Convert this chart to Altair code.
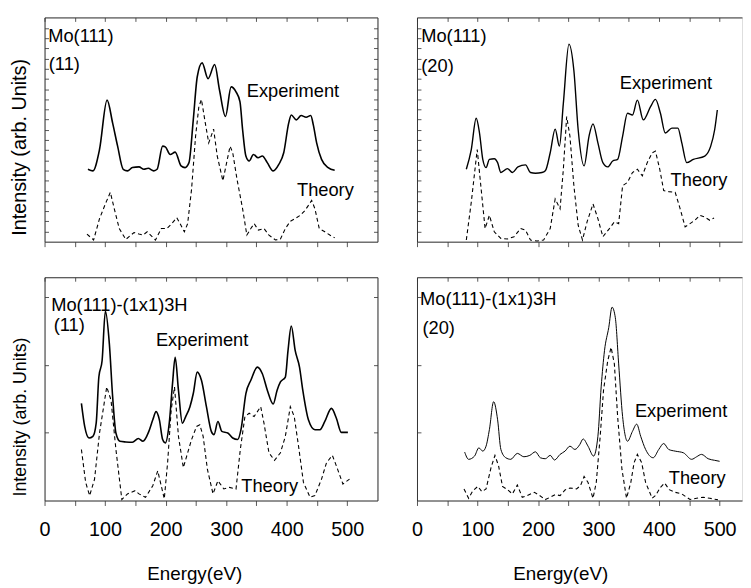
import altair as alt
import pandas as pd

FONT = "Liberation Sans"
FRAME = "#333333"
TICK = "#555555"

# ---------------- data (energy in eV, intensity in arbitrary units) ----------------
# Mo(111) (11)
TL_exp_E = [71.7, 79.9, 90.8, 103.3, 112.5, 120.7, 129.9, 137, 145.1, 156, 164.1, 171.2, 180.4, 185.9, 195.1, 199.5,
            207.6, 215.8, 225.5, 232.1, 238.6, 245.7, 252.2, 260.3, 270.1, 281, 289.1, 298.9, 308.2, 316.3, 322.8, 327.2,
            332.6, 338, 345.1, 352.7, 359.8, 367.9, 377.7, 387, 395.1, 403.3, 407.6, 415.8, 423.9, 432.1, 439.7, 444,
            449.5, 457.6, 468.5, 479.3]
TL_exp_I = [73.3, 71.7, 93.3, 143.3, 120, 96.7, 73.3, 71.7, 75, 75.7, 73.3, 74.3, 71.7, 73.3, 96.7, 96,
            88.3, 90.7, 76.7, 75, 80, 123.3, 166.7, 181, 165, 179.3, 153.3, 126.7, 156.7, 151.7, 141.7, 113.3,
            86.7, 81.7, 88.3, 85, 86.7, 80, 71.7, 78.3, 90, 120, 128.3, 123.3, 127.7, 126, 127.7, 118.3,
            100, 83.3, 75, 72.3]
TL_th_E = [70.1, 81, 90.8, 100.5, 108.7, 115.2, 123.4, 134.2, 147.8, 156, 162.5, 169.6, 183.2, 192.9, 202.2, 210.3,
           218.5, 223.9, 231, 236.4, 242.9, 249.5, 254.9, 259.2, 264.7, 271.2, 279.3, 285.3, 294.6, 306.5, 310.9, 317.9,
           327.2, 334.2, 340.8, 346.2, 353.3, 362.5, 370.7, 381.5, 389.7, 397.8, 406, 414.1, 422.3, 430.4, 441.3, 446.7,
           453.8, 463, 471.2, 479.3]
TL_th_I = [7.7, 1.7, 23.3, 38.3, 50, 33.3, 13.3, 2.3, 9.3, 7.7, 6.7, 10, 1.7, 13.3, 13.3, 18.3,
           24.3, 18.3, 10, 18.3, 53.3, 106.7, 136.7, 144, 123.3, 100, 114, 86.7, 61.7, 96.7, 90, 63.3,
           33.3, 6.7, 13.3, 18.3, 11.7, 13.3, 6.7, 1.7, 2.7, 13.3, 20.7, 23.3, 26.7, 31.7, 41.7, 33.3,
           13.3, 10, 6.7, 4]

# Mo(111) (20)
TR_exp_E = [81.5, 89.7, 97.8, 103.3, 108.7, 114.1, 119.6, 127.7, 133.2, 138.6, 149.5, 157.6, 166.8, 179.3, 187.5,
            195.7, 206.5, 212, 220.1, 228.3, 235.3, 241.8, 251.1, 259.2, 266.3, 276.1, 284.2, 290.8, 298.9, 307.1,
            315.2, 323.4, 331.5, 339.7, 347.8, 356, 364.1, 373.9, 385.9, 394, 402.2, 410.3, 421.2, 431, 437.5,
            445.7, 456.5, 475.5, 485.3, 491.8, 496.2]
TR_exp_I = [73.3, 93.3, 125, 110, 83.3, 75, 83.3, 84, 80, 70, 74, 70, 75.7, 77.7, 70,
            69.3, 70, 71.7, 90, 114, 96.7, 140, 200, 173.3, 113.3, 76.7, 106.7, 119.3, 100, 80,
            75.7, 81.7, 83.3, 106.7, 130, 128.3, 143.3, 123.3, 136.7, 144, 130, 110, 115, 115, 100,
            80, 83.3, 86.7, 96.7, 113.3, 133.3]
TR_th_E = [81.5, 89.7, 99.5, 106, 112.5, 119.6, 127.7, 138.6, 149.5, 160.3, 171.2, 179.3, 187.5, 198.4, 209.2,
           220.1, 228.3, 236.4, 241.8, 247.3, 252.7, 259.2, 266.3, 273.4, 281, 290.8, 298.9, 307.1, 317.9, 326.1,
           333.2, 339.7, 347.8, 356, 364.1, 372.3, 380.4, 388.6, 394, 401.1, 407.6, 415.8, 426.6, 434.8, 443,
           451.1, 459.2, 467.4, 475.5, 483.7, 490.8]
TR_th_I = [1.7, 40, 93.3, 53.3, 13.3, 26.7, 10, 3.3, 2.7, 5, 13.3, 11.7, 1.7, 0.7, 1.7,
           13.3, 43.3, 33.3, 73.3, 126.7, 106.7, 56.7, 16.7, 1.7, 20, 38.3, 23.3, 5, 13.3, 20,
           18.3, 56.7, 60, 70, 73.3, 66.7, 80, 90, 91.7, 73.3, 51.7, 50.7, 50, 33.3, 15,
           18.3, 21.7, 26.7, 25, 21.7, 24]

# Mo(111)-(1x1)3H (11)
BL_exp_E = [60.9, 66.3, 73.4, 79.9, 85.3, 89.7, 95.1, 100.5, 107.1, 112.5, 117.9, 124.5, 134.2, 145.1, 154.9,
            162.5, 172.3, 178.8, 184.2, 189.7, 195.1, 199.5, 206, 211.4, 215.8, 221.2, 227.7, 233.2, 240.2, 245.7,
            252.2, 259.2, 267.4, 275.5, 279.9, 286.4, 292.9, 302.7, 310.9, 319, 324.5, 332.6, 340.8, 351.6, 359.8,
            368, 377.7, 384.2, 389.7, 397.8, 402.2, 407.6, 414.1, 421.2, 426.6, 435.9, 446.7, 454.9, 463, 473.9,
            482.1, 490.2, 501.1]
BL_exp_I = [98.3, 75, 63.3, 65, 78.3, 125, 141.7, 191.7, 158.3, 105, 68.3, 60, 59.3, 59, 62.7,
            60, 70, 81.7, 90, 81.7, 61.7, 58.3, 78.3, 118.3, 145, 111.7, 78.3, 85, 95, 108.3,
            130, 121.7, 95, 70, 66.7, 80, 70, 68.3, 63.3, 61.7, 71.7, 108.3, 121.7, 135, 128.3,
            111.7, 97.7, 111.7, 120, 125, 151.7, 176.7, 151.7, 135, 111.7, 81.7, 71.7, 71.7, 80, 93.3,
            83.3, 69, 69]
BL_th_E = [60.9, 67.9, 74.5, 82.6, 90.8, 102.7, 109.8, 117.9, 127.7, 137, 149.5, 156, 166.8, 178.8, 187,
           194, 197.8, 203.3, 209.2, 214.7, 221.2, 229.3, 236.4, 242.9, 251.1, 256.5, 262, 269, 278.3, 286.4,
           296.2, 305.4, 316.3, 323.4, 331, 338, 346.2, 357.1, 362.5, 370.7, 379.9, 389.7, 397.8, 406, 412.5,
           419.6, 427.7, 438.6, 446.7, 457.6, 465.8, 475.5, 482.1, 492.9, 503.8]
BL_th_I = [51.7, 18.3, 5, 21.7, 68.3, 115, 101.7, 51.7, 1, 6.7, 10, 6.7, 3.3, 15, 30,
           11.7, 1.7, 38.3, 91.7, 115, 65, 33.3, 48.3, 61.7, 75, 76.7, 65, 31.7, 6.7, 20,
           11.7, 13.3, 11.7, 51.7, 85, 88.3, 85, 95, 78.3, 48.3, 40.7, 48.3, 65, 95, 85,
           55, 18.3, 3.3, 5, 21.7, 38.3, 45.7, 35, 16.7, 21.7]

# Mo(111)-(1x1)3H (20)
BR_exp_E = [78.8, 85.3, 95.1, 102.2, 108.7, 114.1, 119.6, 126.6, 133.2, 138.6, 146.7, 154.9, 165.8, 176.6, 186.4,
            195.7, 203.8, 212, 220.1, 227.2, 236.4, 244.6, 252.7, 260.9, 269, 274.5, 282.6, 291.8, 298.9, 304.3,
            309.8, 316.8, 322.3, 327.7, 333.2, 339.7, 347.8, 356, 363, 369.6, 377.7, 390.2, 399.5, 407.6, 415.8,
            426.6, 440.2, 453.8, 462, 470.1, 481, 491.8, 500]
BR_exp_I = [49, 41.7, 45, 53.3, 50, 55, 71.7, 100, 81.7, 51.7, 43.3, 41.7, 47.7, 44.3, 45.7,
            49.3, 43.3, 42.3, 45.7, 41, 46.7, 50, 55, 51.7, 56.7, 62.3, 55, 45, 65, 115,
            151.7, 175, 195.7, 185, 138.3, 85, 60, 70, 77.3, 65, 51.7, 43.3, 51.7, 57.7, 51.7,
            50, 48.3, 41.7, 44.3, 46.7, 42.3, 40.7, 39.7]
BR_th_E = [77.7, 85.3, 92.4, 100.5, 107.1, 114.1, 122.3, 128.8, 134.8, 141.3, 149.5, 157.6, 165.8, 173.9, 182.1,
           194, 201.1, 212, 220.1, 228.3, 236.4, 244.6, 252.7, 263.6, 270.1, 276.1, 282.6, 290.8, 296.2, 302.7,
           308.2, 315.2, 320.7, 326.1, 331.5, 338.6, 346.2, 353.3, 358.7, 364.1, 371.2, 377.7, 388.6, 394, 402.2,
           409.2, 416.8, 426.6, 437.5, 451.1, 462, 472.8, 483.7, 497.3]
BR_th_I = [11.7, 2.3, 10, 14.3, 9, 11.7, 33.3, 45.7, 35, 14.3, 11, 6.7, 15.7, 3.3, 5,
           8.3, 5.7, 1, 3.3, 6, 5, 10.7, 12.7, 11.7, 15, 24.3, 18.3, 2.3, 18.3, 65,
           111.7, 141.7, 155, 138.3, 85, 31.7, 2.3, 18.3, 38.3, 46.7, 38.3, 18.3, 2.3, 5, 13.3,
           17.7, 11, 8.3, 6.7, 1, 2.3, 3.3, 2.3, 0.7]

# annotations: text, energy, intensity
TL_lab = ["Mo(111)", "(11)", "Experiment", "Theory"]
TL_lab_E = [6, 7, 334, 417]
TL_lab_I = [208, 180, 152, 52]
TR_lab = ["Mo(111)", "(20)", "Experiment", "Theory"]
TR_lab_E = [7, 7, 335, 419]
TR_lab_I = [208, 178, 161, 62]
BL_lab = ["Mo(111)-(1x1)3H", "(11)", "Experiment", "Theory"]
BL_lab_E = [11, 15, 184, 325]
BL_lab_I = [198, 178, 162, 15]
BR_lab = ["Mo(111)-(1x1)3H", "(20)", "Experiment", "Theory"]
BR_lab_E = [5, 9, 360, 416]
BR_lab_I = [204, 175, 91, 23]

# tick positions
X_TICKS = [0, 50, 100, 150, 200, 250, 300, 350, 400, 450, 500]
Y_TICKS_TOP = [10.3, 20.6, 30.9, 41.2, 51.5, 61.8, 72.1, 82.4, 92.7, 103, 113.3, 123.6, 133.9, 144.2,
               154.5, 164.8, 175.1, 185.4, 195.7, 206, 216.3]
Y_TICKS_BOTTOM = [68.5, 137, 205.5]

INWARD = {"expr": "-4"}


def panel(exp_E, exp_I, th_E, th_I, lab, lab_E, lab_I, xmax, w, h, ymax,
          bottom, left, exp_sw, yt_size, yt_y, xt_x, yticks):
    exp = pd.DataFrame({"E": exp_E, "I": exp_I})
    th = pd.DataFrame({"E": th_E, "I": th_I})
    labs = pd.DataFrame({"label": lab, "E": lab_E, "I": lab_I})
    xs = alt.Scale(domain=[0, xmax], nice=False, zero=False)
    ys = alt.Scale(domain=[0, ymax], nice=False, zero=False)

    xb = dict(orient="bottom", values=X_TICKS, grid=False, domainColor=FRAME, domainWidth=1,
              tickColor=TICK, tickSize=5, tickWidth=1, labelFlush=False, labelOverlap=False)
    if bottom:
        x_axis = alt.Axis(**xb, labelExpr="datum.value % 100 === 0 ? datum.label : ''",
                          labelFont=FONT, labelFontSize=20, labelColor="black", labelPadding=14,
                          title="Energy(eV)", titleFont=FONT, titleFontSize=19, titleFontWeight="normal",
                          titleColor="black", titleX=xt_x, titleY=65, titleBaseline="top")
    else:
        x_axis = alt.Axis(**xb, labels=False, title=None)

    yl = dict(orient="left", grid=False, domainColor=FRAME, domainWidth=1, labels=False,
              values=yticks, tickSize=INWARD, tickColor=TICK, tickWidth=1)
    if left:
        y_axis = alt.Axis(**yl, title="Intensity (arb. Units)", titleFont=FONT, titleFontSize=yt_size,
                          titleFontWeight="normal", titleColor="black", titleX=-15.5, titleY=yt_y)
    else:
        y_axis = alt.Axis(**yl, title=None)

    exp_line = alt.Chart(exp).mark_line(color="black", strokeWidth=exp_sw, interpolate="monotone").encode(
        x=alt.X("E:Q", scale=xs, axis=x_axis),
        y=alt.Y("I:Q", scale=ys, axis=y_axis),
    )

    x_top = alt.Axis(orient="top", grid=False, domainColor=FRAME, domainWidth=1, values=X_TICKS,
                     tickSize=INWARD, tickColor=TICK, tickWidth=1, labels=False, title=None)
    if left:
        y_right = alt.Axis(orient="right", grid=False, domainColor=FRAME, domainWidth=1, values=yticks,
                           tickSize=INWARD, tickColor=TICK, tickWidth=1, labels=False, title=None)
        y_enc = alt.Y("I:Q", scale=ys, axis=y_right)
    else:
        y_enc = alt.Y("I:Q", scale=ys, axis=None)

    th_line = alt.Chart(th).mark_line(color="black", strokeWidth=1.1, strokeDash=[4, 3]).encode(
        x=alt.X("E:Q", scale=xs, axis=x_top),
        y=y_enc,
    )

    text = alt.Chart(labs).mark_text(align="left", baseline="middle", font=FONT, fontSize=18.5,
                                     color="black").encode(
        x=alt.X("E:Q", scale=xs, axis=None),
        y=alt.Y("I:Q", scale=ys, axis=None),
        text="label:N",
    )

    return alt.layer(exp_line, th_line, text).resolve_axis(x="independent", y="independent").properties(
        width=w, height=h)


TL = panel(TL_exp_E, TL_exp_I, TL_th_E, TL_th_I, TL_lab, TL_lab_E, TL_lab_I, 550, 337, 227, 227,
           False, True, 1.6, 20, 131, 0, Y_TICKS_TOP)
TR = panel(TR_exp_E, TR_exp_I, TR_th_E, TR_th_I, TR_lab, TR_lab_E, TR_lab_I, 537, 329, 227, 227,
           False, False, 1.4, 20, 0, 0, Y_TICKS_TOP)
BL = panel(BL_exp_E, BL_exp_I, BL_th_E, BL_th_I, BL_lab, BL_lab_E, BL_lab_I, 550, 337, 226, 226,
           True, True, 1.6, 18, 141, 151.5, Y_TICKS_BOTTOM)
BR = panel(BR_exp_E, BR_exp_I, BR_th_E, BR_th_I, BR_lab, BR_lab_E, BR_lab_I, 537, 329, 226, 226,
           True, False, 1.0, 18, 0, 145, Y_TICKS_BOTTOM)

chart = alt.concat(TL, TR, BL, BR, columns=2, spacing={"row": 36, "column": 40}, bounds="flush").properties(
    padding={"left": 1, "top": 5, "right": 0, "bottom": 0}
).configure_view(stroke=None).configure(background="white")

chart.save("out.html", embed_options={"renderer": "svg", "actions": False})
